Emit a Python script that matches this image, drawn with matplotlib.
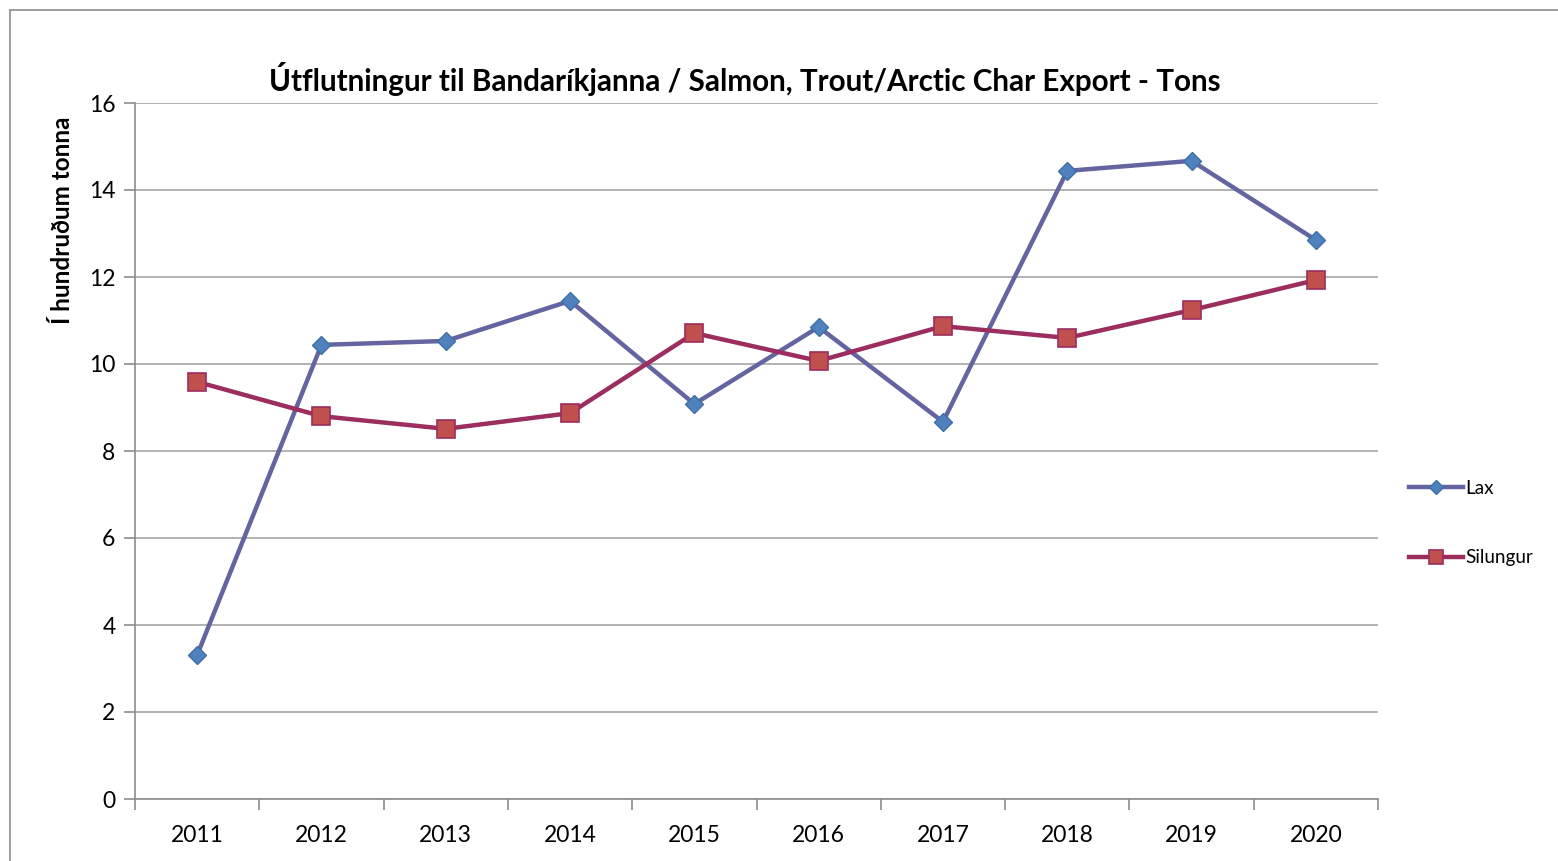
import numpy as np
import matplotlib.pyplot as plt
from matplotlib.lines import Line2D

# -----------------------------
# Data (hundreds of tons)
# -----------------------------
years = ["2011", "2012", "2013", "2014", "2015", "2016", "2017", "2018", "2019", "2020"]
lax = [3.31, 10.44, 10.53, 11.45, 9.08, 10.85, 8.67, 14.44, 14.67, 12.85]
silungur = [9.59, 8.80, 8.51, 8.87, 10.71, 10.07, 10.87, 10.60, 11.24, 11.93]
yticks = [0, 2, 4, 6, 8, 10, 12, 14, 16]

plt.rcParams["font.family"] = ["Lato", "DejaVu Sans"]

W, H = 1558, 861
fig = plt.figure(figsize=(W / 100, H / 100), dpi=100)
ax = fig.add_axes([135 / W, 1 - 799 / H, (1378 - 135) / W, (799 - 103) / H])

# outer chart border (top and left visible)
fig.add_artist(Line2D([10 / W, 1], [1 - 10 / H, 1 - 10 / H], color="#8c8c8c", lw=1.2))
fig.add_artist(Line2D([10 / W, 10 / W], [0, 1 - 10 / H], color="#8c8c8c", lw=1.2))

x = np.arange(len(years))
lax_color = "#6464a0"
sil_color = "#9b2d5f"

ax.plot(x, lax, color=lax_color, lw=3.2, marker="D", markersize=9.5,
        markerfacecolor="#4f81bd", markeredgecolor="#3f6fa8", markeredgewidth=1,
        label="Lax", zorder=3)
ax.plot(x, silungur, color=sil_color, lw=3.2, marker="s", markersize=13,
        markerfacecolor="#c0504d", markeredgecolor=sil_color, markeredgewidth=1.2,
        label="Silungur", zorder=3)

ax.set_xlim(-0.5, len(years) - 0.5)
ax.set_ylim(0, 16)
ax.set_yticks(yticks)
ax.set_yticklabels([str(v) for v in yticks], fontsize=16.5)
ax.set_xticks(x)
ax.set_xticklabels(years, fontsize=16.5)
ax.set_xticks(np.arange(-0.5, len(years)), minor=True)
ax.tick_params(axis="x", which="major", length=0, pad=19)
ax.tick_params(axis="x", which="minor", length=8, color="#8c8c8c", width=1.2)
ax.tick_params(axis="y", length=8, color="#8c8c8c", width=1.2, pad=6)

ax.grid(axis="y", color="#a6a6a6", lw=1.2)
ax.set_axisbelow(True)
for s in ["top", "right"]:
    ax.spines[s].set_visible(False)
for s in ["left", "bottom"]:
    ax.spines[s].set_color("#8c8c8c")
    ax.spines[s].set_linewidth(1.2)

fig.text(745 / W, 1 - 79 / H,
         "Útflutningur til Bandaríkjanna / Salmon, Trout/Arctic Char Export - Tons",
         fontsize=21.3, fontweight="bold", ha="center", va="center")
fig.text(62 / W, 1 - 220 / H, "Í hundruðum tonna", rotation=90, fontsize=17.5,
         fontweight="bold", ha="center", va="center")

fig.legend(loc="upper left", bbox_to_anchor=(1401 / W, 1 - 472 / H), frameon=False,
           fontsize=13.6, handlelength=2.9, handletextpad=0.1, labelspacing=2.8,
           markerscale=0.75, borderaxespad=0)

fig.savefig("out.png", dpi=100)
